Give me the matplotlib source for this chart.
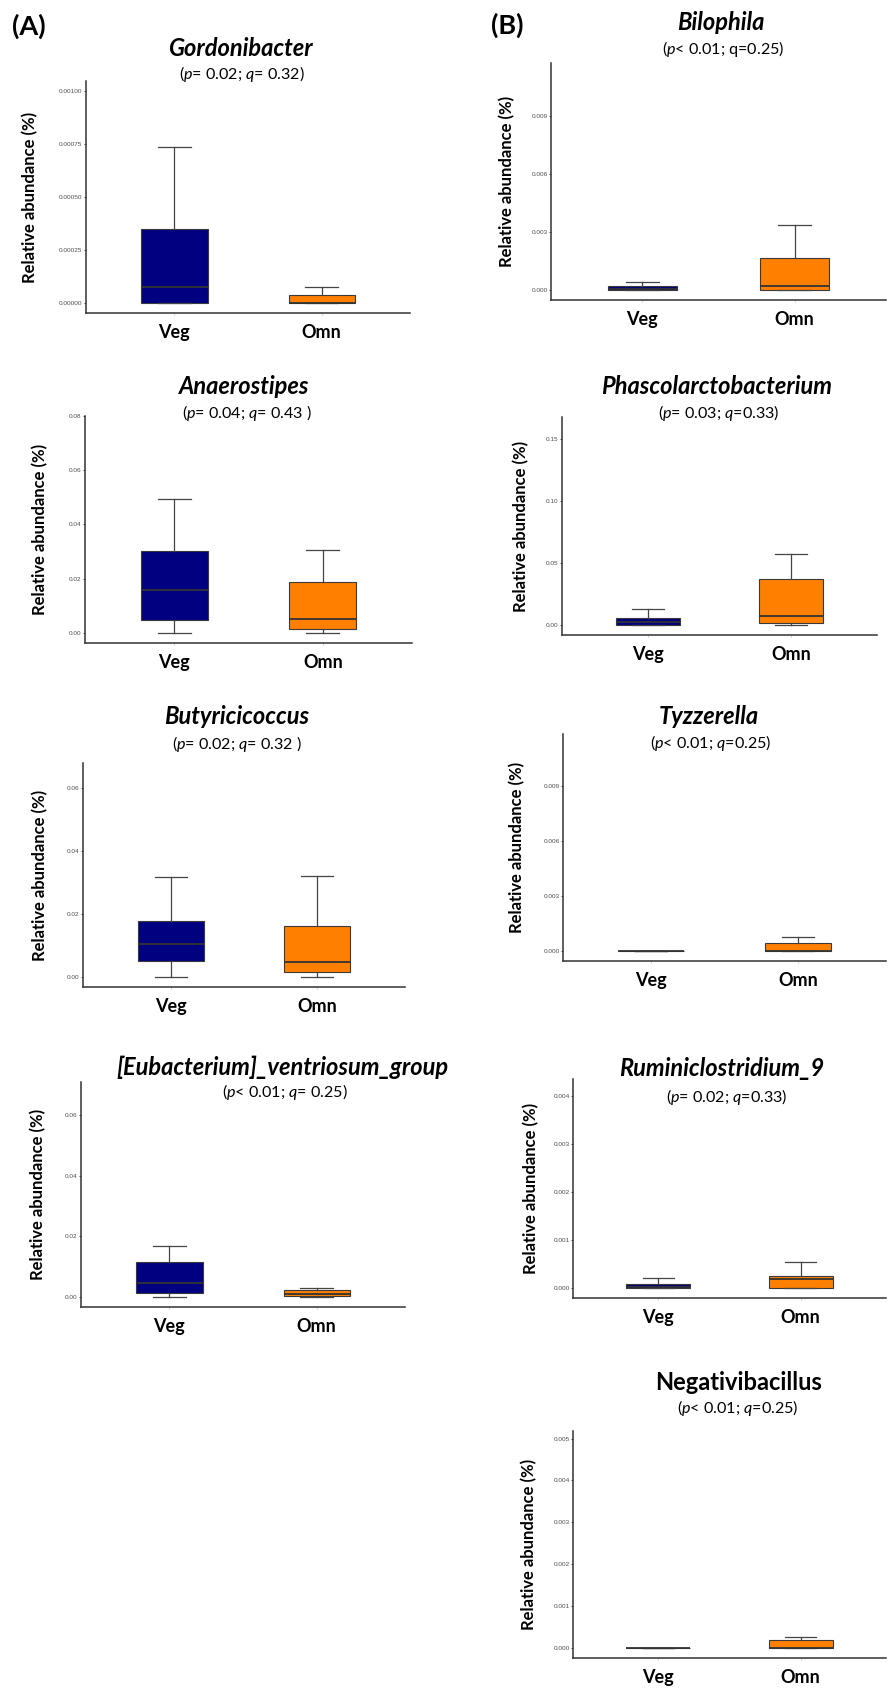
import matplotlib
matplotlib.use("Agg")
import matplotlib.pyplot as plt

plt.rcParams['mathtext.fontset'] = 'custom'
plt.rcParams['mathtext.rm'] = 'Lato'
plt.rcParams['mathtext.it'] = 'Lato:italic'
plt.rcParams['mathtext.bf'] = 'Lato:bold'

# ---------------- data ----------------
groups = ["Veg", "Omn"]
group_colors = ["#000080", "#FF8000"]
ylabel_text = "Relative abundance (%)"

# box stats per group: [lower whisker, Q1, median, Q3, upper whisker]
gordonibacter_veg = [0.0, 0.0, 0.000074, 0.000349, 0.000735]
gordonibacter_omn = [0.0, 0.0, 0.000002, 0.000036, 0.0000755]
anaerostipes_veg = [0.0, 0.00455, 0.0156, 0.0300, 0.0493]
anaerostipes_omn = [0.0, 0.0015, 0.0052, 0.0187, 0.0305]
butyricicoccus_veg = [0.0, 0.0052, 0.0105, 0.0179, 0.0317]
butyricicoccus_omn = [0.0, 0.0017, 0.0047, 0.0161, 0.0321]
eubacterium_veg = [0.0, 0.0013, 0.0046, 0.0114, 0.0169]
eubacterium_omn = [0.0, 0.0003, 0.0009, 0.0023, 0.0029]
bilophila_veg = [0.0, 0.0, 0.00005, 0.00018, 0.0004]
bilophila_omn = [0.0, 0.0, 0.00021, 0.00167, 0.00334]
phascolarcto_veg = [0.0, 0.0003, 0.0028, 0.0054, 0.0127]
phascolarcto_omn = [0.0, 0.0016, 0.0075, 0.0374, 0.0571]
tyzzerella_veg = [0.0, 0.0, 0.0, 0.0, 0.0]
tyzzerella_omn = [0.0, 0.0, 0.00002, 0.00042, 0.00078]
ruminiclostridium_veg = [0.0, 0.0, 0.00003, 0.00009, 0.000222]
ruminiclostridium_omn = [0.0, 0.0, 0.000188, 0.000257, 0.000556]
negativibacillus_veg = [0.0, 0.0, 0.0, 0.0, 0.0]
negativibacillus_omn = [0.0, 0.0, 0.00001, 0.00019, 0.000263]

titles = ["Gordonibacter", "Anaerostipes", "Butyricicoccus", "[Eubacterium]_ventriosum_group",
          "Bilophila", "Phascolarctobacterium", "Tyzzerella", "Ruminiclostridium_9", "Negativibacillus"]
title_italic = [True, True, True, True, True, True, True, True, False]
subtitles = [r"($p$= 0.02; $q$= 0.32)", r"($p$= 0.04; $q$= 0.43 )", r"($p$= 0.02; $q$= 0.32 )",
             r"($p$< 0.01; $q$= 0.25)", r"($p$< 0.01; q=0.25)", r"($p$= 0.03; $q$=0.33)",
             r"($p$< 0.01; $q$=0.25)", r"($p$= 0.02; $q$=0.33)", r"($p$< 0.01; $q$=0.25)"]
panel_data = [
    (gordonibacter_veg, gordonibacter_omn),
    (anaerostipes_veg, anaerostipes_omn),
    (butyricicoccus_veg, butyricicoccus_omn),
    (eubacterium_veg, eubacterium_omn),
    (bilophila_veg, bilophila_omn),
    (phascolarcto_veg, phascolarcto_omn),
    (tyzzerella_veg, tyzzerella_omn),
    (ruminiclostridium_veg, ruminiclostridium_omn),
    (negativibacillus_veg, negativibacillus_omn),
]
y_ticks = [
    [0.0, 0.00025, 0.0005, 0.00075, 0.001],
    [0.0, 0.02, 0.04, 0.06, 0.08],
    [0.0, 0.02, 0.04, 0.06],
    [0.0, 0.02, 0.04, 0.06],
    [0.0, 0.003, 0.006, 0.009],
    [0.0, 0.05, 0.10, 0.15],
    [0.0, 0.003, 0.006, 0.009],
    [0.0, 0.001, 0.002, 0.003, 0.004],
    [0.0, 0.001, 0.002, 0.003, 0.004, 0.005],
]
y_tick_fmt = ["%.5f", "%.2f", "%.2f", "%.2f", "%.3f", "%.2f", "%.3f", "%.3f", "%.3f"]
y_limits = [
    (-0.000047, 0.001047), (-0.0038, 0.0800), (-0.0032, 0.068), (-0.0033, 0.071),
    (-0.00052, 0.01174), (-0.0081, 0.168), (-0.00054, 0.0118), (-0.0002, 0.00435),
    (-0.00024, 0.00518),
]

# ---------------- layout (pixels) ----------------
W, H = 888, 1689
# left, right, top, bottom
axes_px = [
    (86, 410, 81, 313), (85, 412, 416, 643), (83, 405, 763, 987), (81, 405, 1082, 1307),
    (551, 886, 63, 300), (562, 877, 417, 635), (563, 886, 734, 961), (573, 886, 1079, 1298),
    (573, 886, 1431, 1658),
]
title_px = [(240, 48), (244, 387), (237, 717), (282, 1067),
            (721, 23), (717, 387), (709, 717), (722, 1069), (739, 1382)]
sub_px = [(242, 74), (247, 413), (237, 744), (285, 1092),
          (723, 49), (719, 413), (711, 743), (727, 1097), (738, 1408)]
ylab_x_px = [30, 40, 40, 38, 507, 521, 517, 531, 529]

fig = plt.figure(figsize=(W / 100, H / 100), dpi=100)

def fx(x):
    return x / W

def fy(y):
    return 1 - y / H

for i in range(9):
    l, r, t, b = axes_px[i]
    ax = fig.add_axes([fx(l), fy(b), (r - l) / W, (b - t) / H])
    veg, omn = panel_data[i]
    stats = []
    for s in (veg, omn):
        stats.append(dict(whislo=s[0], q1=s[1], med=s[2], q3=s[3], whishi=s[4], fliers=[]))
    bp = ax.bxp(stats, positions=[1, 2], widths=0.45, capwidths=0.22, patch_artist=True,
                showfliers=False, manage_ticks=False,
                boxprops=dict(edgecolor="#3a3a3a", linewidth=0.8),
                medianprops=dict(color="#333333", linewidth=1.3),
                whiskerprops=dict(color="#444444", linewidth=0.9),
                capprops=dict(color="#444444", linewidth=0.9))
    for patch, c in zip(bp["boxes"], group_colors):
        patch.set_facecolor(c)
    ax.set_xlim(0.4, 2.6)
    ax.set_ylim(*y_limits[i])
    ax.set_yticks(y_ticks[i])
    ax.set_yticklabels([y_tick_fmt[i] % v for v in y_ticks[i]])
    ax.set_xticks([1, 2])
    ax.set_xticklabels(groups)
    for lab in ax.get_xticklabels():
        lab.set_fontfamily("Lato")
        lab.set_fontweight("bold")
        lab.set_fontsize(13)
        lab.set_color("black")
    for lab in ax.get_yticklabels():
        lab.set_fontfamily("Liberation Sans")
        lab.set_fontsize(4.6)
        lab.set_color("#4D4D4D")
    ax.tick_params(axis="y", length=1.5, width=0.6, color="#333333", pad=1)
    ax.tick_params(axis="x", length=1.5, width=0.5, color="#bbbbbb", pad=6.5)
    for sp in ("top", "right"):
        ax.spines[sp].set_visible(False)
    for sp in ("left", "bottom"):
        ax.spines[sp].set_color("#333333")
        ax.spines[sp].set_linewidth(1.1)
    ax.set_facecolor("white")

    # y label
    fig.text(fx(ylab_x_px[i]), fy((t + b) / 2), ylabel_text, rotation=90, ha="center",
             va="center", fontfamily="Lato", fontweight="bold", fontsize=12)
    # titles
    fig.text(fx(title_px[i][0]), fy(title_px[i][1]), titles[i], ha="center", va="center",
             fontfamily="Lato", fontweight="bold",
             fontstyle="italic" if title_italic[i] else "normal", fontsize=17)
    fig.text(fx(sub_px[i][0]), fy(sub_px[i][1]), subtitles[i], ha="center", va="center",
             fontfamily="Lato", fontsize=11.6)

fig.text(fx(29), fy(26), "(A)", ha="center", va="center", fontfamily="Lato",
         fontweight="bold", fontsize=19.5)
fig.text(fx(507), fy(25), "(B)", ha="center", va="center", fontfamily="Lato",
         fontweight="bold", fontsize=19.5)

fig.savefig("out.png", dpi=100, facecolor="white")
